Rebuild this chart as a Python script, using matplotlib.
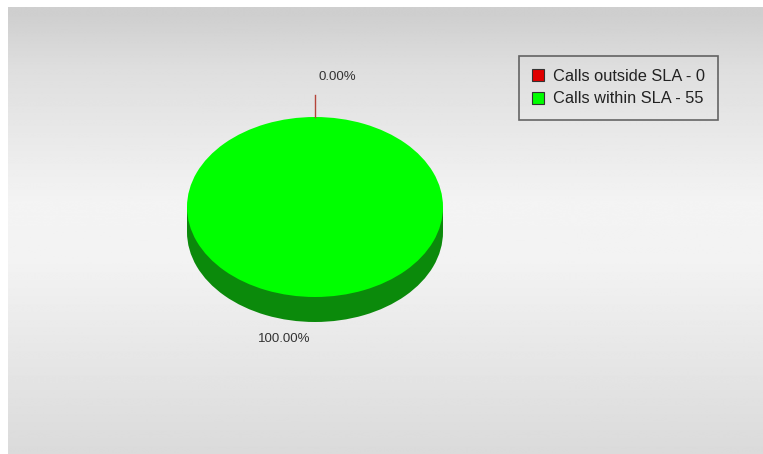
import numpy as np
import matplotlib
matplotlib.use("Agg")
import matplotlib.pyplot as plt
from matplotlib.patches import Patch, Rectangle

# данные
labels = ["Calls outside SLA", "Calls within SLA"]
values = [0, 55]
colors = ["#e00000", "#00ff00"]
side_color = "#0b8a0b"
pct_labels = ["0.00%", "100.00%"]

plt.rcParams["font.family"] = ["Liberation Sans", "DejaVu Sans"]

W, H = 763, 454
fig = plt.figure(figsize=(W / 100, H / 100), dpi=100)
fig.patch.set_facecolor("white")

# фон с градиентом
bg = fig.add_axes([0, 0, 1, 1])
bg.set_xlim(0, W)
bg.set_ylim(H, 0)
bg.axis("off")
ys = np.arange(H)
shade = np.interp(ys, [7, 60, 200, 260, 454], [0.81, 0.87, 0.955, 0.95, 0.855])
grad = np.repeat(shade[:, None], 2, axis=1)
bg.imshow(grad, cmap="gray", vmin=0, vmax=1, extent=[8, W, H, 7],
          aspect="auto", interpolation="bilinear")
bg.set_xlim(0, W)
bg.set_ylim(H, 0)

# эллипс пирога: центр (315, 207), rx 128, ry 90, толщина 25 px
cx, cy, rx, ry, depth = 315, 207, 128, 90, 25
d = depth / ry
ax = fig.add_axes([(cx - rx) / W, (H - (cy + ry + depth)) / H,
                   2 * rx / W, (2 * ry + depth) / H])
ax.set_facecolor("none")

ax.pie(values, colors=[side_color, side_color], startangle=90, radius=1,
       center=(0, -d), wedgeprops=dict(linewidth=0))
ax.add_patch(Rectangle((-1, -d), 2, d, color=side_color, lw=0))
ax.pie(values, colors=colors, startangle=90, radius=1, center=(0, 0),
       wedgeprops=dict(linewidth=0))
ax.set_aspect("auto")
ax.set_xlim(-1, 1)
ax.set_ylim(-1 - d, 1)
ax.axis("off")

# выноска для 0%
ax.plot([0, 0], [1, 1 + 22 / ry], color="#b5443a", lw=1, clip_on=False)

bg.text(337, 77, pct_labels[0], fontsize=9.5, color="#333333",
        ha="center", va="center")
bg.text(284, 339, pct_labels[1], fontsize=9.5, color="#333333",
        ha="center", va="center")

# легенда
handles = [Patch(facecolor=c, edgecolor="#333333", lw=0.8) for c in colors]
leg_labels = [f"{l} - {v}" for l, v in zip(labels, values)]
leg = fig.legend(handles, leg_labels, loc="upper left",
                 bbox_to_anchor=(519 / W, 1 - 56 / H), fontsize=11.8,
                 frameon=True, fancybox=False, handlelength=0.75,
                 handleheight=0.75, handletextpad=0.5, borderpad=0.8,
                 labelspacing=0.45, borderaxespad=0)
frame = leg.get_frame()
frame.set_facecolor("none")
frame.set_edgecolor("#444444")
frame.set_linewidth(1.2)
for t in leg.get_texts():
    t.set_color("#222222")

fig.savefig("out.png", dpi=100)
